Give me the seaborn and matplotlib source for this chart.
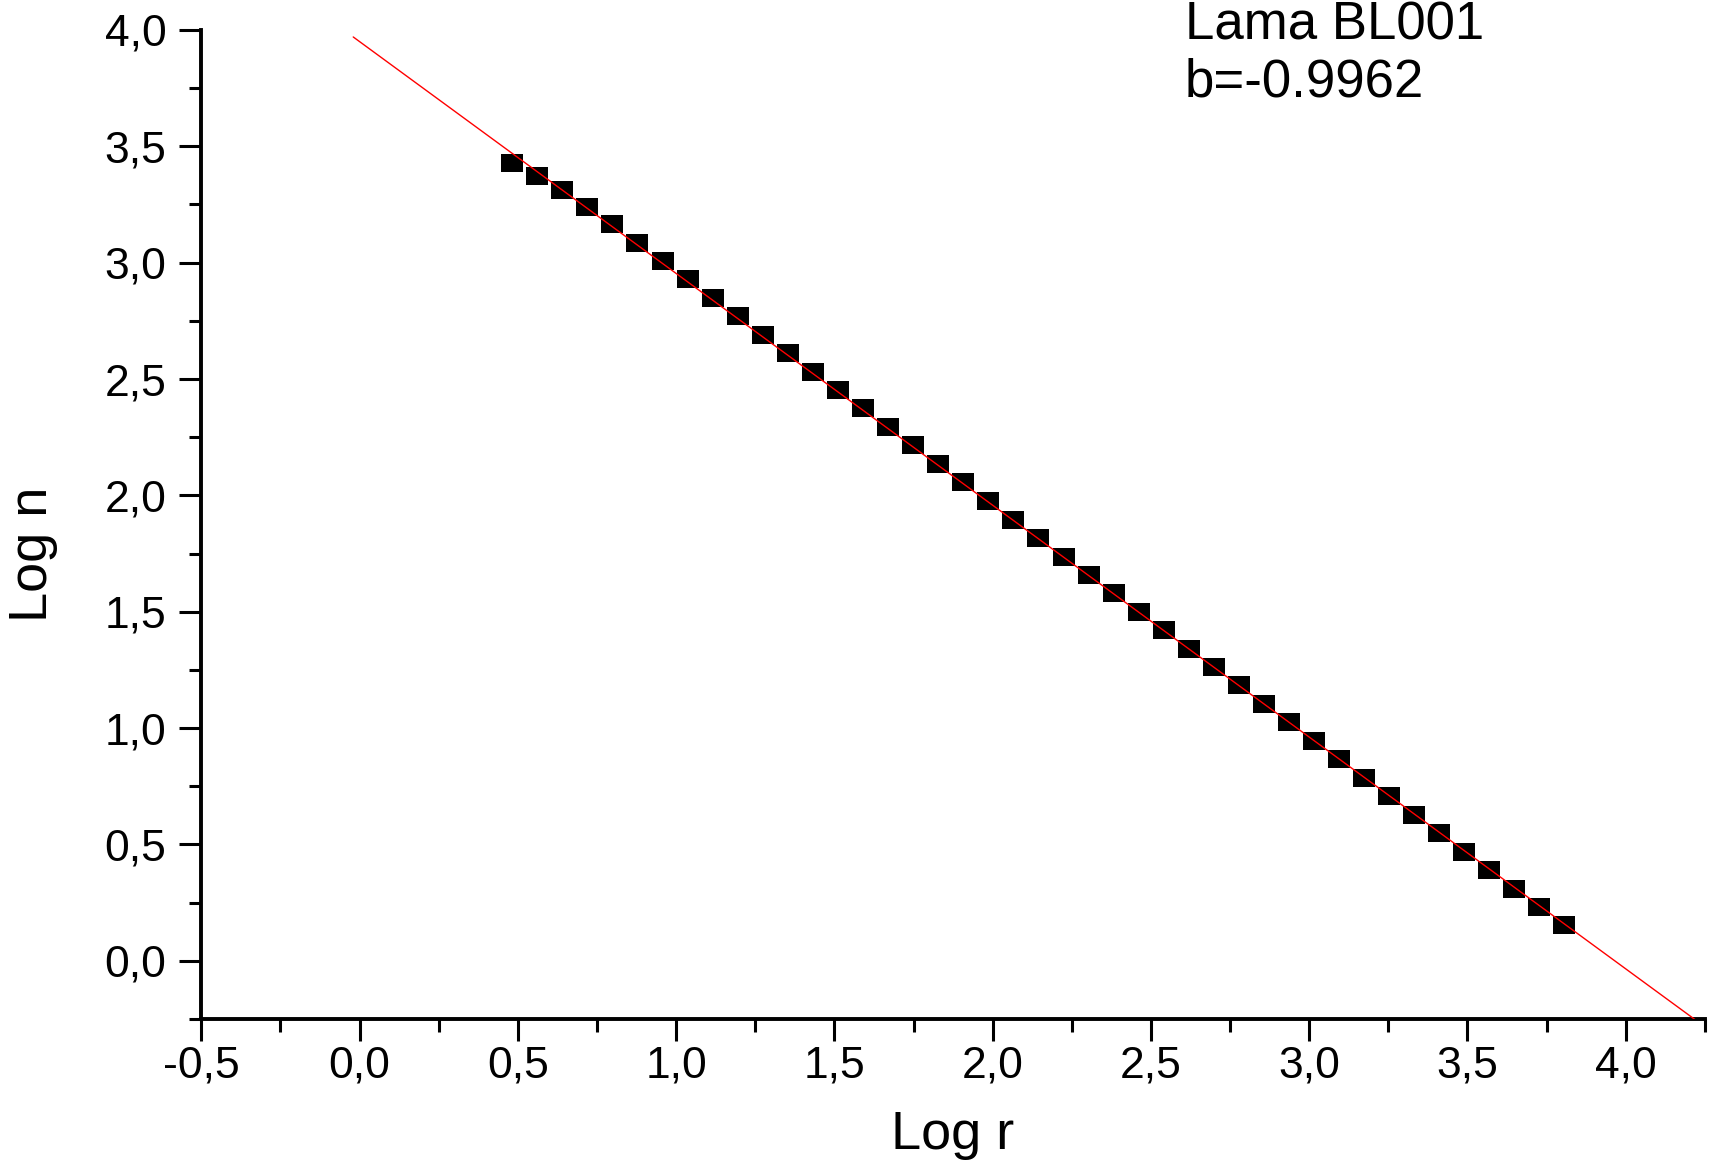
import numpy as np
import pandas as pd
import matplotlib
matplotlib.use("Agg")
import matplotlib.pyplot as plt
from matplotlib.ticker import MultipleLocator, FuncFormatter
from matplotlib.path import Path
import seaborn as sns

# Rank-size data (log10 scale)
log_r = [0.482, 0.562, 0.641, 0.720, 0.799, 0.878, 0.957, 1.036, 1.115, 1.194,
         1.273, 1.354, 1.433, 1.512, 1.591, 1.670, 1.749, 1.828, 1.907, 1.986,
         2.065, 2.144, 2.224, 2.303, 2.382, 2.461, 2.540, 2.619, 2.698, 2.777,
         2.856, 2.935, 3.015, 3.094, 3.173, 3.252, 3.331, 3.410, 3.489, 3.568,
         3.647, 3.726, 3.806]
log_n = [3.430, 3.372, 3.312, 3.241, 3.165, 3.085, 3.007, 2.928, 2.848, 2.770,
         2.690, 2.610, 2.531, 2.452, 2.374, 2.292, 2.215, 2.135, 2.056, 1.977,
         1.896, 1.818, 1.737, 1.659, 1.579, 1.500, 1.421, 1.341, 1.262, 1.184,
         1.104, 1.025, 0.945, 0.865, 0.786, 0.706, 0.627, 0.548, 0.467, 0.389,
         0.310, 0.229, 0.152]

# Linear fit  log n = a + b * log r
fit_slope = -0.9962
fit_intercept = 3.95
fit_x_range = [-0.02, 4.25]

sample_name = "Lama BL001"

sns.set_theme(style="ticks")
plt.rcParams["font.family"] = ["Liberation Sans", "DejaVu Sans"]

points = pd.DataFrame({"log_r": log_r, "log_n": log_n})
fit_x = np.linspace(fit_x_range[0], fit_x_range[1], 50)
fit = pd.DataFrame({"log_r": fit_x, "log_n": fit_intercept + fit_slope * fit_x})

fig = plt.figure(figsize=(17.19, 11.75), dpi=100)
ax = fig.add_axes([0.1171, 0.1328, 0.8747, 0.8417])

# slightly wide rectangular marker
rect = Path([(-1, -0.84), (1, -0.84), (1, 0.84), (-1, 0.84), (-1, -0.84)], closed=True)

sns.scatterplot(data=points, x="log_r", y="log_n", marker=rect, s=251,
                color="black", linewidth=0, ax=ax, zorder=2)
sns.lineplot(data=fit, x="log_r", y="log_n", color="red", linewidth=1.0,
             ax=ax, zorder=3, estimator=None, sort=False)

ax.set_xlim(-0.5, 4.25)
ax.set_ylim(-0.25, 4.0)

for side in ("top", "right"):
    ax.spines[side].set_visible(False)
for side in ("left", "bottom"):
    ax.spines[side].set_linewidth(2.8)
    ax.spines[side].set_color("black")

ax.xaxis.set_major_locator(MultipleLocator(0.5))
ax.xaxis.set_minor_locator(MultipleLocator(0.25))
ax.yaxis.set_major_locator(MultipleLocator(0.5))
ax.yaxis.set_minor_locator(MultipleLocator(0.25))
comma = FuncFormatter(lambda v, p: f"{v:.1f}".replace(".", ","))
ax.xaxis.set_major_formatter(comma)
ax.yaxis.set_major_formatter(comma)

ax.tick_params(axis="both", which="major", direction="out", length=16,
               width=2.2, color="black", labelsize=32, labelcolor="black")
ax.tick_params(axis="both", which="minor", direction="out", length=9,
               width=2.2, color="black")
ax.tick_params(axis="x", which="major", pad=3)
ax.tick_params(axis="y", which="major", pad=9)

ax.set_xlabel("Log r", fontsize=39, color="black")
ax.set_ylabel("Log n", fontsize=39, color="black")
ax.xaxis.set_label_coords(0.5, -0.092)
ax.yaxis.set_label_coords(-0.095, 0.47)

ax.text(2.607, 3.959, sample_name, fontsize=38, color="black",
        va="baseline", ha="left", clip_on=False)
ax.text(2.607, 3.712, f"b={fit_slope}", fontsize=38, color="black",
        va="baseline", ha="left", clip_on=False)

ax.grid(False)
fig.savefig("out.png", dpi=100, facecolor="white")
